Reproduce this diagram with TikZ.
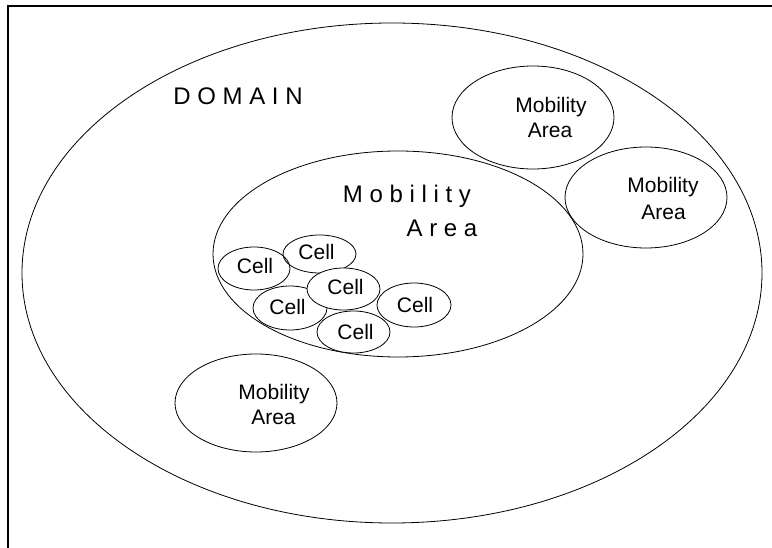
\documentclass[tikz,border=0pt]{standalone}
\usepackage{fontspec}
\setmainfont{Liberation Sans}
\begin{document}
\begin{tikzpicture}[x=1pt,y=-1pt,
  ring/.style={draw=black,line width=0.8pt},
  lbl/.style={inner sep=0pt,anchor=base,font=\fontsize{21}{25}\selectfont},
  biglbl/.style={inner sep=0pt,anchor=base,font=\fontsize{24}{28}\selectfont}]
\clip (0,0) rectangle (772,548);
\fill[white] (0,0) rectangle (772,548);
\draw[line width=1.6pt] (8,6) rectangle (800,580);
% domain
\draw[ring] (392,273) ellipse [x radius=370, y radius=250];
\node[biglbl] (domain) at (238,104.5) {D O M A I N};
% mobility areas
\draw[ring] (398,254) ellipse [x radius=185, y radius=103];
\draw[ring] (533,117.5) ellipse [x radius=81, y radius=51.5];
\draw[ring] (646,197.5) ellipse [x radius=81, y radius=50.5];
\draw[ring] (256,403) ellipse [x radius=81, y radius=49];
\node[biglbl] (ma1a) at (407,203) {M o b i l i t y};
\node[biglbl] (ma1b) at (442,237) {A r e a};
\node[lbl] (ma2a) at (551,112.5) {Mobility};
\node[lbl] (ma2b) at (550,137.5) {Area};
\node[lbl] (ma3a) at (663,192.5) {Mobility};
\node[lbl] (ma3b) at (663.5,219.5) {Area};
\node[lbl] (ma4a) at (274,399.5) {Mobility};
\node[lbl] (ma4b) at (273.5,424.5) {Area};
% cells
\draw[ring] (254,268.5) ellipse [x radius=36, y radius=21.5];
\draw[ring] (319.5,254) ellipse [x radius=36.5, y radius=19];
\draw[ring] (290,308) ellipse [x radius=37, y radius=22];
\draw[ring,fill=white] (343.5,289) ellipse [x radius=36.5, y radius=21];
\draw[ring] (414,305) ellipse [x radius=37, y radius=22];
\draw[ring,fill=white] (353.5,332) ellipse [x radius=36.5, y radius=21];
\node[lbl] (c1) at (255,273.5) {Cell};
\node[lbl] (c2) at (316.5,259.5) {Cell};
\node[lbl] (c3) at (345.5,294.5) {Cell};
\node[lbl] (c4) at (287.5,314.5) {Cell};
\node[lbl] (c5) at (415,312.5) {Cell};
\node[lbl] (c6) at (355.5,339.5) {Cell};
\end{tikzpicture}
\end{document}
